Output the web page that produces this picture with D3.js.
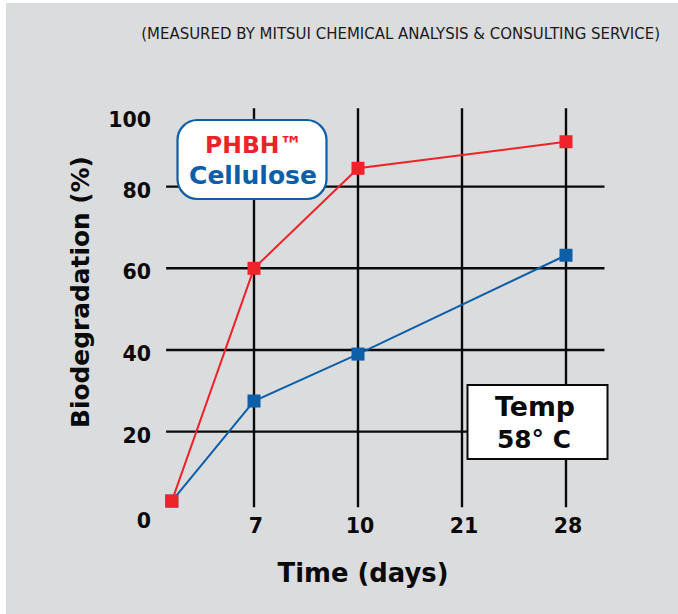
<!DOCTYPE html>
<html>
<head>
<meta charset="utf-8">
<script src="https://cdn.jsdelivr.net/npm/d3@7/dist/d3.min.js"></script>
<style>
  html, body { margin: 0; padding: 0; background: #ffffff; }
  svg { display: block; }
  text { font-family: "DejaVu Sans", "Inter", sans-serif; }
</style>
</head>
<body>
<svg id="chart" width="678" height="614"></svg>
<script>
// ---- data ----
const xCategories = ["0", "7", "10", "21", "28"];
const xTickLabels = ["7", "10", "21", "28"];
const yTickValues = [0, 20, 40, 60, 80, 100];
const yGridValues = [20, 40, 60, 80];

const phbhDays = ["0", "7", "10", "28"];
const phbhValues = [3, 60, 84.5, 91];

const celluloseDays = ["0", "7", "10", "28"];
const celluloseValues = [3, 27.5, 39, 63.2];

const sourceNote = "(MEASURED BY MITSUI CHEMICAL ANALYSIS & CONSULTING SERVICE)";
const legendLabels = ["PHBH\u2122", "Cellulose"];
const tempLabels = ["Temp", "58\u00B0 C"];

// ---- styles ----
const RED = "#ee2229";
const BLUE = "#0c5ea8";
const BG = "#dbdcde";
const INK = "#0a0a0a";

const svg = d3.select("#chart");

// scale a text's font-size so its rendered width equals the target width
function fit(sel, width) {
  const n = sel.node();
  const fs = parseFloat(sel.attr("font-size"));
  const w = n.getComputedTextLength();
  if (w > 0) sel.attr("font-size", fs * width / w);
  return sel;
}

svg.append("rect").attr("x", 6).attr("y", 3).attr("width", 672).attr("height", 611).attr("fill", BG);

const catPos = d3.scaleOrdinal().domain(xCategories).range([0.21, 1, 2, 3, 4]);
const x = d3.scaleLinear().domain([0, 4]).range([150, 566]);
const y = d3.scaleLinear().domain([0, 100]).range([513.3, 105]);
const X = c => x(catPos(c));

// horizontal grid lines
svg.append("g").selectAll("line").data(yGridValues).join("line")
  .attr("x1", x(0.155)).attr("x2", x(4.37))
  .attr("y1", d => y(d)).attr("y2", d => y(d))
  .attr("stroke", INK).attr("stroke-width", 2.4);

// vertical grid lines
svg.append("g").selectAll("line").data(xTickLabels).join("line")
  .attr("x1", d => X(d)).attr("x2", d => X(d))
  .attr("y1", y(99.2)).attr("y2", y(1.5))
  .attr("stroke", INK).attr("stroke-width", 2.4);

// y tick labels
svg.append("g").selectAll("text").data(yTickValues).join("text")
  .attr("x", 151)
  .attr("y", d => y(d) + (d === 100 ? 15 : d === 0 ? 8 : 4))
  .attr("dominant-baseline", "central")
  .attr("text-anchor", "end")
  .attr("font-size", 20.5).attr("font-weight", 700).attr("fill", INK)
  .text(d => d);

// x tick labels
svg.append("g").selectAll("text").data(xTickLabels).join("text")
  .attr("x", d => X(d) + 2)
  .attr("y", 533)
  .attr("text-anchor", "middle")
  .attr("font-size", 20.5).attr("font-weight", 700).attr("fill", INK)
  .text(d => d);

// axis titles
fit(svg.append("text")
  .attr("transform", "translate(89,292) rotate(-90)")
  .attr("text-anchor", "middle")
  .attr("font-size", 22).attr("font-weight", 700).attr("fill", INK)
  .text("Biodegradation (%)"), 272);

fit(svg.append("text")
  .attr("x", 363).attr("y", 582)
  .attr("text-anchor", "middle")
  .attr("font-size", 24).attr("font-weight", 700).attr("fill", INK)
  .text("Time (days)"), 171);

// source note
fit(svg.append("text")
  .attr("x", 660).attr("y", 39)
  .attr("text-anchor", "end")
  .attr("font-size", 13).attr("font-weight", 400).attr("fill", "#1a1a1a")
  .text(sourceNote), 519);

// series
const line = d3.line().x(d => X(d[0])).y(d => y(d[1]));
function drawSeries(days, values, color) {
  const pts = days.map((d, i) => [d, values[i]]);
  svg.append("path").datum(pts).attr("d", line)
    .attr("fill", "none").attr("stroke", color).attr("stroke-width", 2);
  svg.append("g").selectAll("rect").data(pts).join("rect")
    .attr("x", d => X(d[0]) - 6.5).attr("y", d => y(d[1]) - 6.5)
    .attr("width", 13).attr("height", 13).attr("fill", color);
}
drawSeries(celluloseDays, celluloseValues, BLUE);
drawSeries(phbhDays, phbhValues, RED);

// legend box
const lg = svg.append("g");
lg.append("rect").attr("x", 177.5).attr("y", 120).attr("width", 149).attr("height", 79)
  .attr("rx", 20).attr("ry", 20)
  .attr("fill", "#ffffff").attr("stroke", BLUE).attr("stroke-width", 2.2);
fit(lg.append("text").attr("x", 254).attr("y", 153).attr("text-anchor", "middle")
  .attr("font-size", 22).attr("font-weight", 700).attr("fill", RED).text(legendLabels[0]), 98);
fit(lg.append("text").attr("x", 253).attr("y", 184).attr("text-anchor", "middle")
  .attr("font-size", 22).attr("font-weight", 700).attr("fill", BLUE).text(legendLabels[1]), 128);

// temperature box
const tb = svg.append("g");
tb.append("rect").attr("x", 467.5).attr("y", 385).attr("width", 140).attr("height", 74)
  .attr("fill", "#ffffff").attr("stroke", INK).attr("stroke-width", 2);
fit(tb.append("text").attr("x", 535).attr("y", 416).attr("text-anchor", "middle")
  .attr("font-size", 22).attr("font-weight", 700).attr("fill", INK).text(tempLabels[0]), 80);
fit(tb.append("text").attr("x", 534).attr("y", 448).attr("text-anchor", "middle")
  .attr("font-size", 22).attr("font-weight", 700).attr("fill", INK).text(tempLabels[1]), 74);
</script>
</body>
</html>
